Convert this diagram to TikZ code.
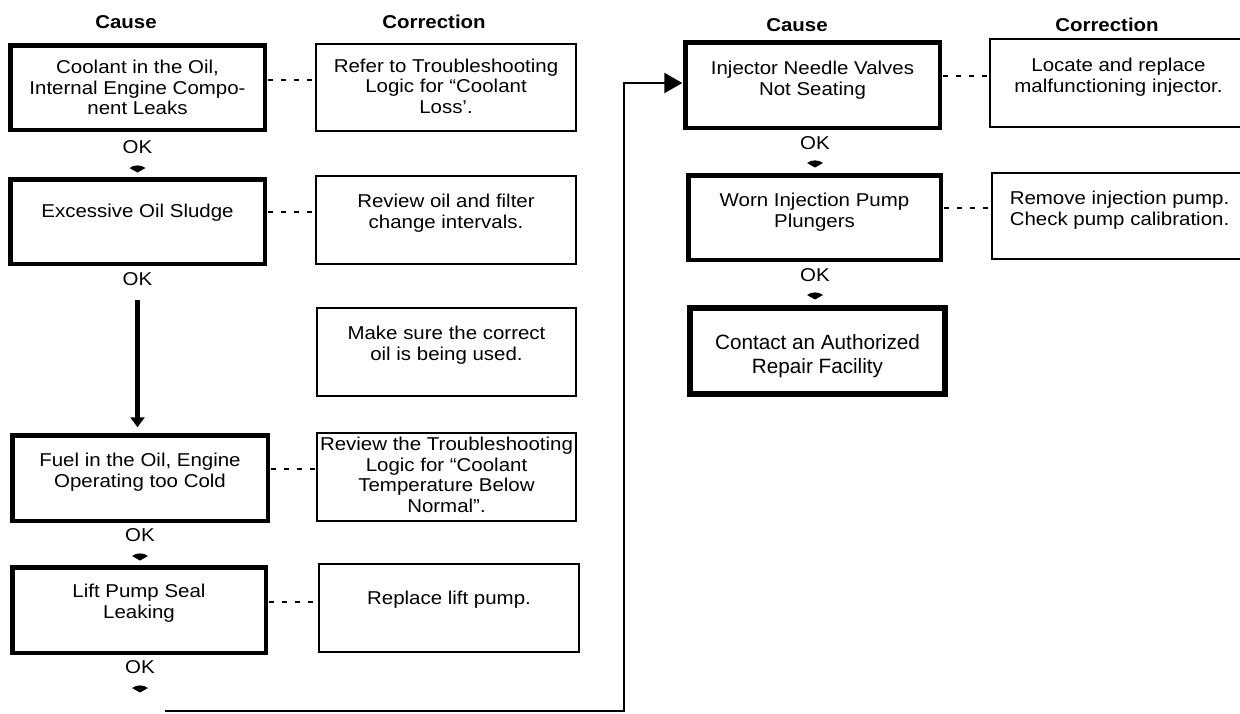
\documentclass[tikz,border=0pt]{standalone}
\usepackage{fontspec}
\setmainfont{Liberation Sans}
\newfontfamily\scanf[FakeStretch=1.1]{Liberation Sans}
\usetikzlibrary{arrows.meta,calc}
\newcommand{\bxt}[4]{\parbox[c][#2][c]{#1}{\centering #4\par\vspace{#3}}}
\begin{document}
\begin{tikzpicture}[x=1pt,y=-1pt,
  every node/.style={inner sep=0pt, outer sep=0pt},
  txt/.style={font=\scanf\fontsize{18.6}{20.5}\selectfont},
  causebox/.style={txt, draw, line width=4.5pt, rectangle},
  corrbox/.style={txt, draw, line width=1.8pt, rectangle},
  finalbox/.style={draw, line width=6pt, rectangle, font=\fontsize{20.7}{24}\selectfont},
  hdr/.style={font=\scanf\bfseries\fontsize{18.6}{20}\selectfont},
  oklab/.style={txt, text height=13.3pt, text depth=0pt},
  dotc/.style={line width=1.8pt, dash pattern=on 5pt off 8pt, shorten <=3pt},
  flow/.style={line width=2.6pt},
  bigarr/.style={line width=5pt, -{Triangle[width=14pt,length=10pt]}},
  pics/okmark/.style={code={\fill (-8,0) .. controls (-3,-3.5) and (3,-3.5) .. (8,0) -- (0,4.5) -- cycle;}}
]
\useasboundingbox (0,0) rectangle (1240,713);

% headers
\node[hdr] (h1) at (126,22) {Cause};
\node[hdr] (h2) at (434,22) {Correction};
\node[hdr] (h3) at (797,25) {Cause};
\node[hdr] (h4) at (1107,25) {Correction};

% left cause column
\node[causebox] (c1) at (137.5,87.5) {\bxt{254.5pt}{84.5pt}{0pt}{Coolant in the Oil,\\Internal Engine Compo-\\nent Leaks}};
\node[causebox] (c2) at (137.5,221.5) {\bxt{254.5pt}{84.5pt}{17pt}{Excessive Oil Sludge}};
\node[causebox] (c3) at (140,478) {\bxt{255.5pt}{85.5pt}{12pt}{Fuel in the Oil, Engine\\Operating too Cold}};
\node[causebox] (c4) at (139,610) {\bxt{253.5pt}{85.5pt}{14pt}{Lift Pump Seal\\Leaking}};

% left correction column
\node[corrbox] (r1) at (446,87.5) {\bxt{260.2pt}{87.2pt}{3pt}{Refer to Troubleshooting\\Logic for “Coolant\\Loss’.}};
\node[corrbox] (r2) at (446,220) {\bxt{260.2pt}{88.2pt}{14pt}{Review oil and filter\\change intervals.}};
\node[corrbox] (r3) at (446.5,352) {\bxt{259.2pt}{88.2pt}{14pt}{Make sure the correct\\oil is being used.}};
\node[corrbox] (r4) at (446.5,477) {\bxt{259.2pt}{88.2pt}{4pt}{Review the Troubleshooting\\Logic for “Coolant\\Temperature Below\\Normal”.}};
\node[corrbox] (r5) at (449,608) {\bxt{260.2pt}{88.2pt}{16pt}{Replace lift pump.}};

% right cause column
\node[causebox] (R1) at (812.5,85) {\bxt{254.5pt}{85.5pt}{10pt}{Injector Needle Valves\\Not Seating}};
\node[causebox] (R2) at (814.5,217.5) {\bxt{252.5pt}{84.5pt}{11pt}{Worn Injection Pump\\Plungers}};
\node[finalbox] (R3) at (817.5,351) {\bxt{255pt}{86pt}{-11pt}{Contact an Authorized\\Repair Facility}};

% right correction column
\node[corrbox] (k1) at (1118.5,83) {\bxt{257.2pt}{88.2pt}{12pt}{Locate and replace\\malfunctioning injector.}};
\node[corrbox] (k2) at (1119.5,216) {\bxt{255.2pt}{86.2pt}{12pt}{Remove injection pump.\\Check pump calibration.}};

% OK labels
\node[oklab] (ok1) at (137.5,147) {OK};
\node[oklab] (ok2) at (137.5,279) {OK};
\node[oklab] (ok3) at (140,535) {OK};
\node[oklab] (ok4) at (140,667) {OK};
\node[oklab] (ok5) at (815,143) {OK};
\node[oklab] (ok6) at (815,275) {OK};

% small arrow marks
\pic at (137.5,168) {okmark};
\pic at (140,556) {okmark};
\pic at (140,688) {okmark};
\pic at (815,163) {okmark};
\pic at (815,295) {okmark};

% dotted links
\coordinate (d1) at (0,80);
\coordinate (d2) at (0,212);
\coordinate (d3) at (0,469);
\coordinate (d4) at (0,602);
\coordinate (d5) at (0,76);
\coordinate (d6) at (0,208);
\draw[dotc] (c1.east |- d1) -- (r1.west |- d1);
\draw[dotc] (c2.east |- d2) -- (r2.west |- d2);
\draw[dotc] (c3.east |- d3) -- (r4.west |- d3);
\draw[dotc] (c4.east |- d4) -- (r5.west |- d4);
\draw[dotc] (R1.east |- d5) -- (k1.west |- d5);
\draw[dotc] (R2.east |- d6) -- (k2.west |- d6);

% long arrow
\draw[bigarr, shorten <=14pt, shorten >=8pt] (ok2.south) -- (ok2.south |- c3.north);

% return line
\coordinate (rs) at (165,711);
\coordinate (rc) at (624,711);
\draw[flow, -{Triangle[length=18pt,width=20pt]}, shorten >=3pt] (rs) -- (rc) |- ([yshift=2pt]R1.west);
\end{tikzpicture}
\end{document}
